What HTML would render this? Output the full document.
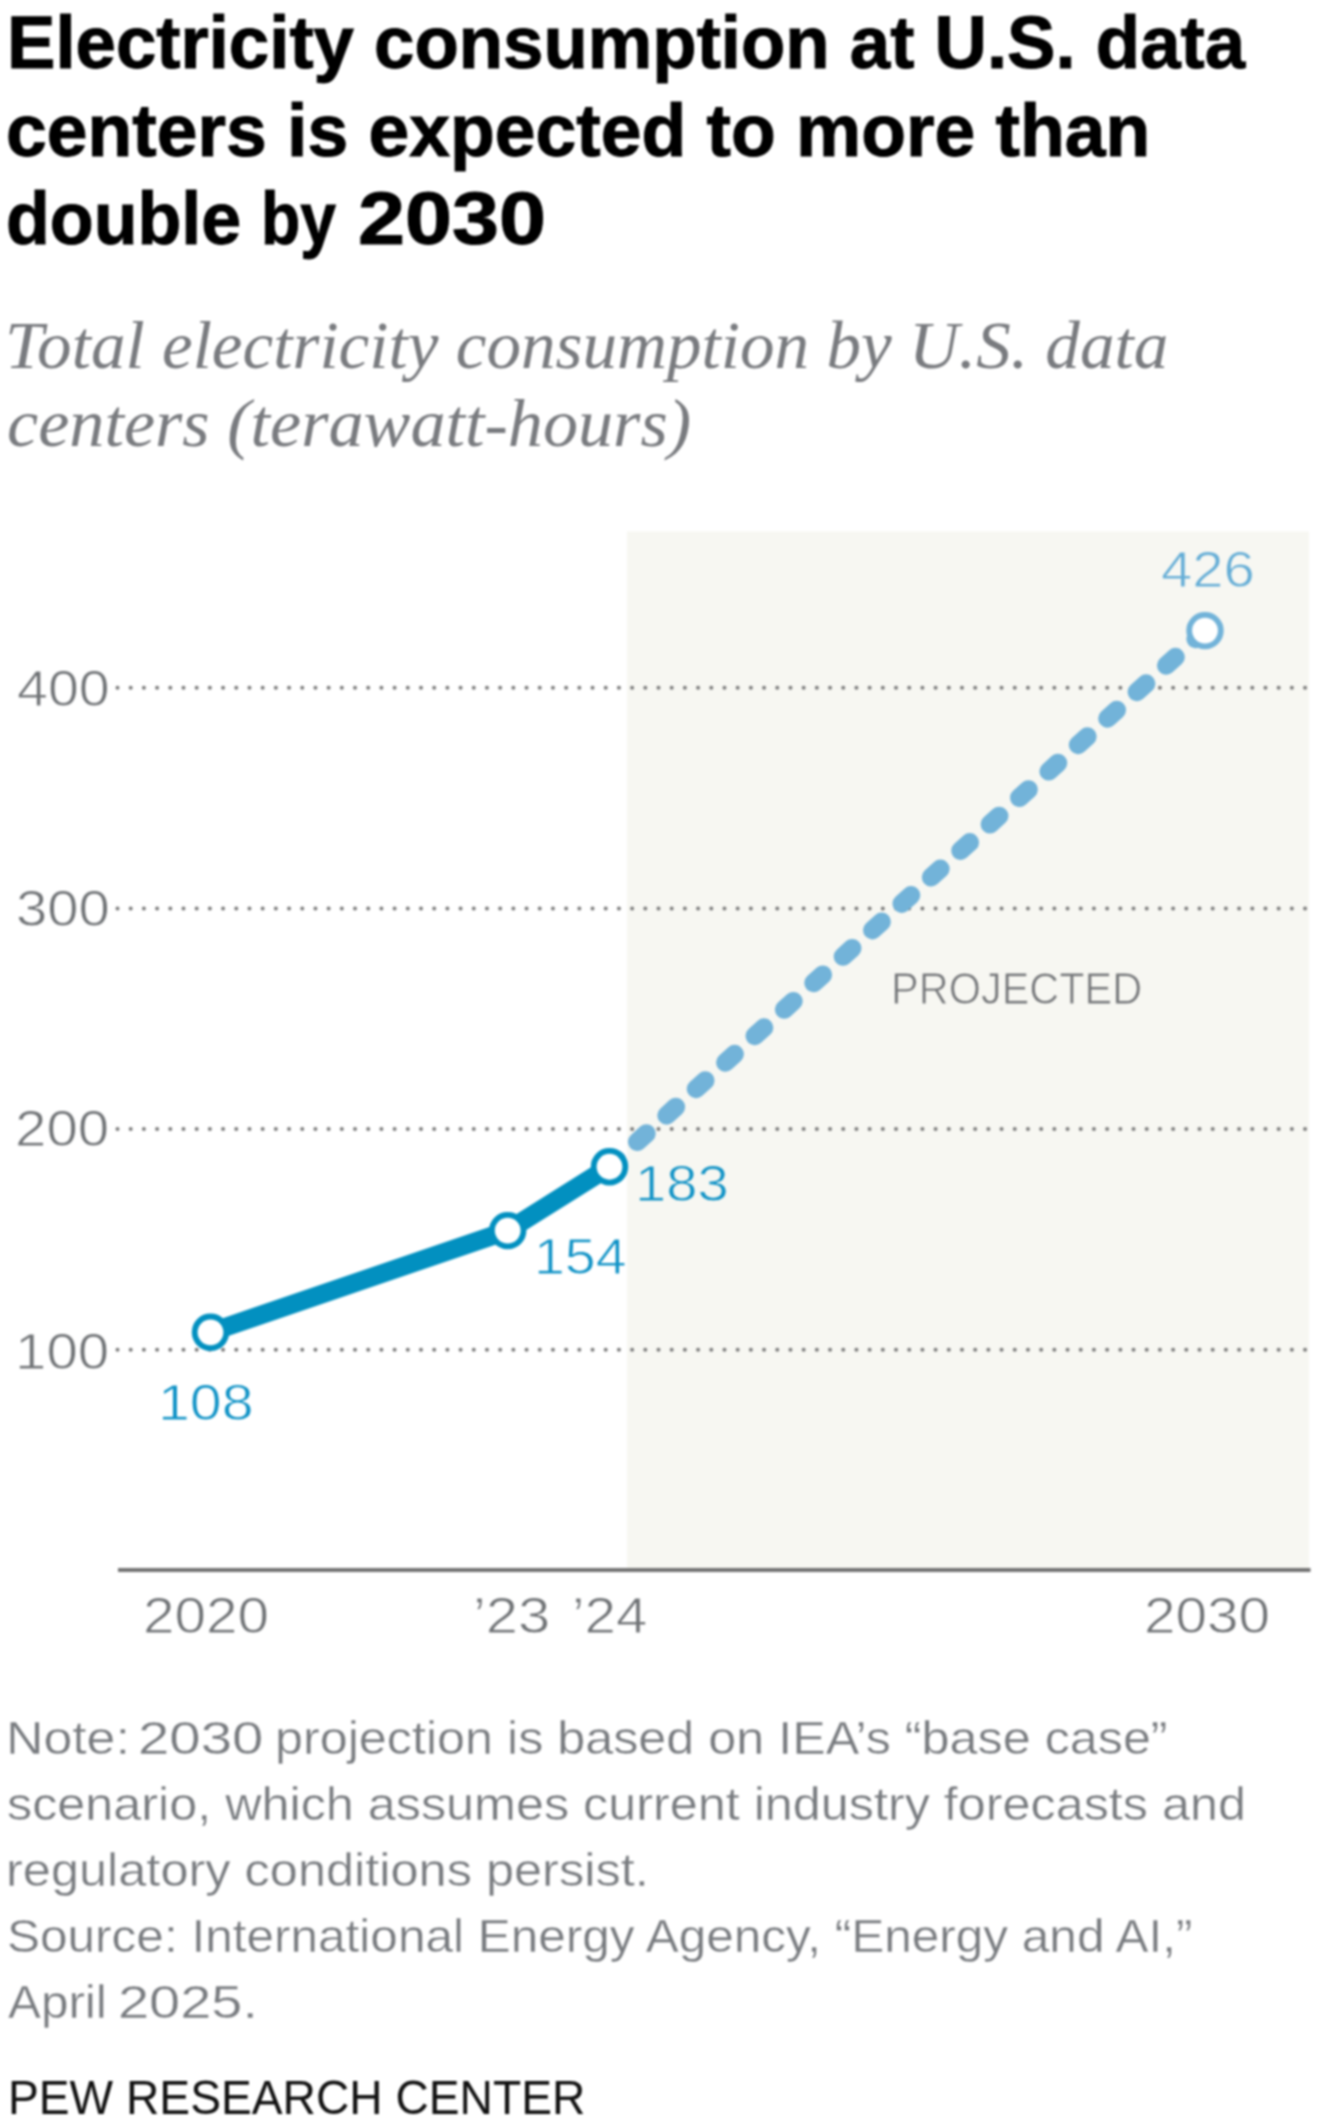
<!DOCTYPE html>
<html lang="en"><head><meta charset="utf-8"><title>Electricity consumption at U.S. data centers is expected to more than double by 2030</title>
<style>
html,body{margin:0;padding:0;background:#fff}
#chart{position:relative;width:1320px;height:2122px;overflow:hidden;background:#fff;filter:blur(0.85px)}
#chart svg{position:absolute;left:0;top:0;display:block}
.t{position:absolute;white-space:pre;line-height:1;transform-origin:0 0;margin:0;padding:0}
.h{font-family:"Liberation Sans",sans-serif;font-weight:700;-webkit-text-stroke:1px #000}
.a{font-family:"Liberation Sans",sans-serif;font-weight:400;-webkit-text-stroke:0.9px #fff}
.s{-webkit-text-stroke-color:#f7f7f2}
.f{-webkit-text-stroke-width:0.4px}
.p{-webkit-text-stroke-width:0}
.i{font-family:"Liberation Serif",serif;font-style:italic;font-weight:400}
</style></head>
<body>
<div id="chart">
<svg width="1320" height="2122" viewBox="0 0 1320 2122">

<rect x="627" y="531.5" width="682" height="1038.5" fill="#f7f7f2"/>
<line x1="117.5" x2="1311" y1="687.80" y2="687.80" stroke="#7b7b7b" stroke-width="4" stroke-dasharray="0.01 13.185" stroke-linecap="round"/>
<line x1="117.5" x2="1311" y1="908.43" y2="908.43" stroke="#7b7b7b" stroke-width="4" stroke-dasharray="0.01 13.185" stroke-linecap="round"/>
<line x1="117.5" x2="1311" y1="1129.07" y2="1129.07" stroke="#7b7b7b" stroke-width="4" stroke-dasharray="0.01 13.185" stroke-linecap="round"/>
<line x1="117.5" x2="1311" y1="1349.70" y2="1349.70" stroke="#7b7b7b" stroke-width="4" stroke-dasharray="0.01 13.185" stroke-linecap="round"/>

<line x1="118" x2="1310.5" y1="1570" y2="1570" stroke="#737373" stroke-width="4.2"/>
<line x1="609.5" y1="1166.75" x2="1205" y2="630.6" stroke="#72b3d9" stroke-width="18.6" stroke-linecap="round" stroke-dasharray="12.4 27.15" stroke-dashoffset="2.25"/>
<polyline points="210.5,1332.3 507.7,1230.6 609.5,1166.75" fill="none" stroke="#0290c0" stroke-width="18.6" stroke-linejoin="round"/>
<circle cx="210.5" cy="1332.3" r="15.8" fill="#fff" stroke="#0290c0" stroke-width="5.8"/>
<circle cx="507.7" cy="1230.6" r="15.8" fill="#fff" stroke="#0290c0" stroke-width="5.8"/>
<circle cx="609.5" cy="1166.75" r="15.8" fill="#fff" stroke="#0290c0" stroke-width="5.8"/>
<circle cx="1205" cy="630.6" r="15.8" fill="#fff" stroke="#72b3d9" stroke-width="5.8"/>

</svg>
<div class="t h" style="left:7.42px;top:5.60px;font-size:73.5px;color:#000;transform:scaleX(0.9874)">Electricity consumption at U.S. data</div>
<div class="t h" style="left:6.07px;top:93.80px;font-size:73.5px;color:#000;transform:scaleX(0.9969)">centers is expected to more than</div>
<div class="t h" style="left:6.43px;top:181.60px;font-size:73.5px;color:#000;transform:scaleX(0.9762)">double </div>
<div class="t h" style="left:260.70px;top:181.60px;font-size:73.5px;color:#000;transform:scaleX(0.8737)">by </div>
<div class="t h" style="left:358.06px;top:181.60px;font-size:73.5px;color:#000;transform:scaleX(1.1498)">2030</div>
<div class="t i" style="left:5.16px;top:310.50px;font-size:68px;color:#797b7f;transform:scaleX(1.0169)">Total electricity consumption by U.S. data</div>
<div class="t i" style="left:6.89px;top:389.00px;font-size:68px;color:#797b7f;transform:scaleX(1.0320)">centers (terawatt-hours)</div>
<div class="t a" style="left:16.89px;top:663.50px;font-size:50px;color:#6f7275;transform:scaleX(1.1118)">400</div>
<div class="t a" style="left:15.75px;top:883.90px;font-size:50px;color:#6f7275;transform:scaleX(1.1258)">300</div>
<div class="t a" style="left:15.38px;top:1104.20px;font-size:50px;color:#6f7275;transform:scaleX(1.1291)">200</div>
<div class="t a" style="left:15.48px;top:1327.00px;font-size:50px;color:#6f7275;transform:scaleX(1.1290)">100</div>
<div class="t a s" style="left:1161.38px;top:545.00px;font-size:50px;color:#64add6;transform:scaleX(1.1250)">426</div>
<div class="t a s" style="left:634.51px;top:1159.30px;font-size:50px;color:#0f92c6;transform:scaleX(1.1234)">183</div>
<div class="t a" style="left:533.56px;top:1232.00px;font-size:50px;color:#0f92c6;transform:scaleX(1.1090)">154</div>
<div class="t a" style="left:157.92px;top:1377.50px;font-size:50px;color:#0f92c6;transform:scaleX(1.1461)">108</div>
<div class="t a" style="left:143.42px;top:1591.30px;font-size:50px;color:#6f7275;transform:scaleX(1.1338)">2020</div>
<div class="t a" style="left:472.94px;top:1591.30px;font-size:50px;color:#6f7275;transform:scaleX(1.1590)">&rsquo;23</div>
<div class="t a" style="left:572.04px;top:1591.30px;font-size:50px;color:#6f7275;transform:scaleX(1.1301)">&rsquo;24</div>
<div class="t a" style="left:1143.92px;top:1591.30px;font-size:50px;color:#6f7275;transform:scaleX(1.1338)">2030</div>
<div class="t a s" style="left:890.68px;top:966.50px;font-size:44px;color:#727477;transform:scaleX(0.9428)">PROJECTED</div>
<div class="t a f" style="left:5.86px;top:1713.50px;font-size:47px;color:#787b7f;transform:scaleX(1.1022)">Note: </div>
<div class="t a f" style="left:138.18px;top:1713.50px;font-size:47px;color:#787b7f;transform:scaleX(1.1987)">2030 </div>
<div class="t a f" style="left:275.48px;top:1713.50px;font-size:47px;color:#787b7f;transform:scaleX(1.0699)">projection is based on IEA&rsquo;s &ldquo;base case&rdquo;</div>
<div class="t a f" style="left:7.49px;top:1779.50px;font-size:47px;color:#787b7f;transform:scaleX(1.0706)">scenario, which assumes current industry forecasts and</div>
<div class="t a f" style="left:6.47px;top:1845.50px;font-size:47px;color:#787b7f;transform:scaleX(1.0743)">regulatory conditions persist.</div>
<div class="t a f" style="left:6.52px;top:1911.50px;font-size:47px;color:#787b7f;transform:scaleX(1.0536)">Source: International Energy Agency, &ldquo;Energy and AI,&rdquo;</div>
<div class="t a f" style="left:7.70px;top:1977.50px;font-size:47px;color:#787b7f;transform:scaleX(1.0506)">April </div>
<div class="t a f" style="left:118.20px;top:1977.50px;font-size:47px;color:#787b7f;transform:scaleX(1.1900)">2025.</div>
<div class="t a p" style="left:7.56px;top:2074.00px;font-size:48px;color:#111;transform:scaleX(0.9621)">PEW RESEARCH CENTER</div>
</div>
</body></html>
